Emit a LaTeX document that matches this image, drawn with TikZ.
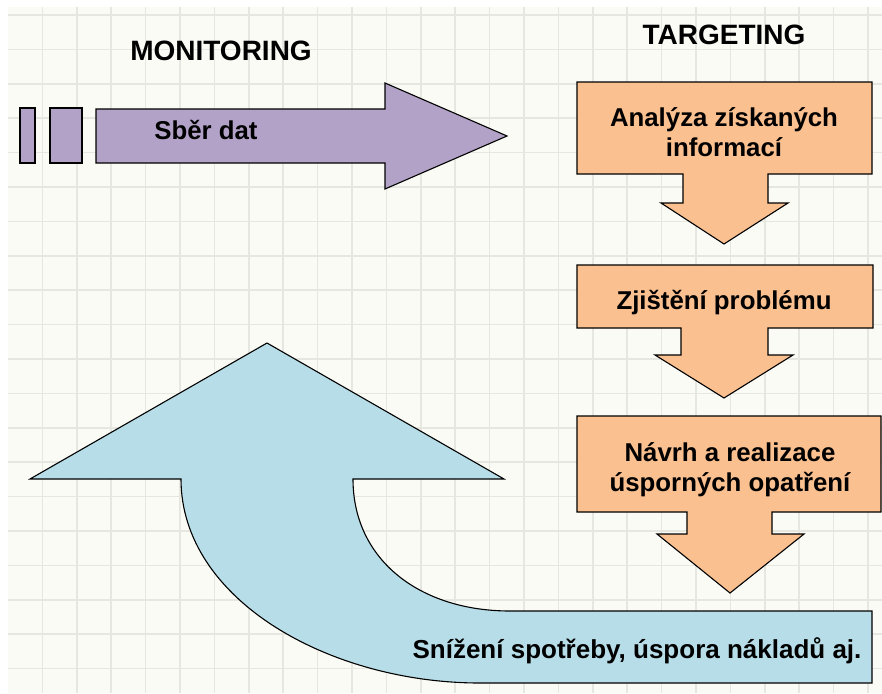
\documentclass[tikz,border=0pt]{standalone}
\usepackage{fontspec}
\setmainfont{Liberation Sans}
\definecolor{lavender}{HTML}{B3A2C7}
\definecolor{apricot}{HTML}{FAC090}
\definecolor{aqua}{HTML}{B7DEE8}
\definecolor{paper}{HTML}{FBFBF6}
\definecolor{gridgray}{HTML}{E7E7E1}
\begin{document}
\begin{tikzpicture}[x=1pt,y=-1pt,
  blk/.style={draw=black,line width=1.1pt,line join=miter},
  head/.style={font=\fontsize{28}{32}\selectfont\bfseries,anchor=base},
  txt/.style={font=\fontsize{25.8}{30}\selectfont\bfseries,align=center}]
\useasboundingbox (0,0) rectangle (882,693);
\fill[white] (0,0) rectangle (882,693);
\fill[paper] (8,7) rectangle (882,693);
\foreach \k in {1,...,25}
  \draw[gridgray,line width=1.5pt] (8+34.4*\k,7) -- (8+34.4*\k,693);
\foreach \k in {0,...,19}
  \draw[gridgray,line width=1.5pt] (8,15+34.4*\k) -- (882,15+34.4*\k);

\node[head] (mon) at (221,60) {MONITORING};
\node[head] (tgt) at (724,45) {TARGETING};

\filldraw[blk,fill=lavender] (20,108) rectangle (35,163);
\filldraw[blk,fill=lavender] (50,108) rectangle (82,163);
\filldraw[blk,fill=lavender] (96,109) -- (385,109) -- (385,83) -- (507,136)
  -- (385,189) -- (385,163) -- (96,163) -- cycle;
\node[txt,anchor=base] (sber) at (206,139) {Sběr dat};

\filldraw[blk,fill=apricot] (577,82) -- (872,82) -- (872,174) -- (768,174)
  -- (768,203) -- (788,203) -- (724,244) -- (661,203) -- (683,203)
  -- (683,174) -- (577,174) -- cycle;
\node[txt] (anal) at (724,132) {Analýza získaných\\informací};

\filldraw[blk,fill=apricot] (577,265) -- (873,265) -- (873,328) -- (768,328)
  -- (768,355) -- (793,355) -- (724,398) -- (655,355) -- (681,355)
  -- (681,328) -- (577,328) -- cycle;
\node[txt,anchor=base] (zjist) at (724,309) {Zjištění problému};

\filldraw[blk,fill=apricot] (577,416) -- (881,416) -- (881,512) -- (772,512)
  -- (772,534) -- (804,534) -- (730,593) -- (657,534) -- (687,534)
  -- (687,512) -- (577,512) -- cycle;
\node[txt] (navrh) at (730,470) {Návrh a realizace\\úsporných opatření};

\filldraw[blk,fill=aqua] (181,479) -- (30,479) -- (267,343) -- (504,479)
  -- (353,479) .. controls (353,560) and (420,611) .. (510,611)
  -- (872,611) -- (872,683) -- (480,683)
  .. controls (330,683) and (181,600) .. (181,479) -- cycle;
\node[txt,anchor=base,font=\fontsize{26}{30}\selectfont\bfseries] (sniz) at (637,658)
  {Snížení spotřeby, úspora nákladů aj.};
\end{tikzpicture}
\end{document}
